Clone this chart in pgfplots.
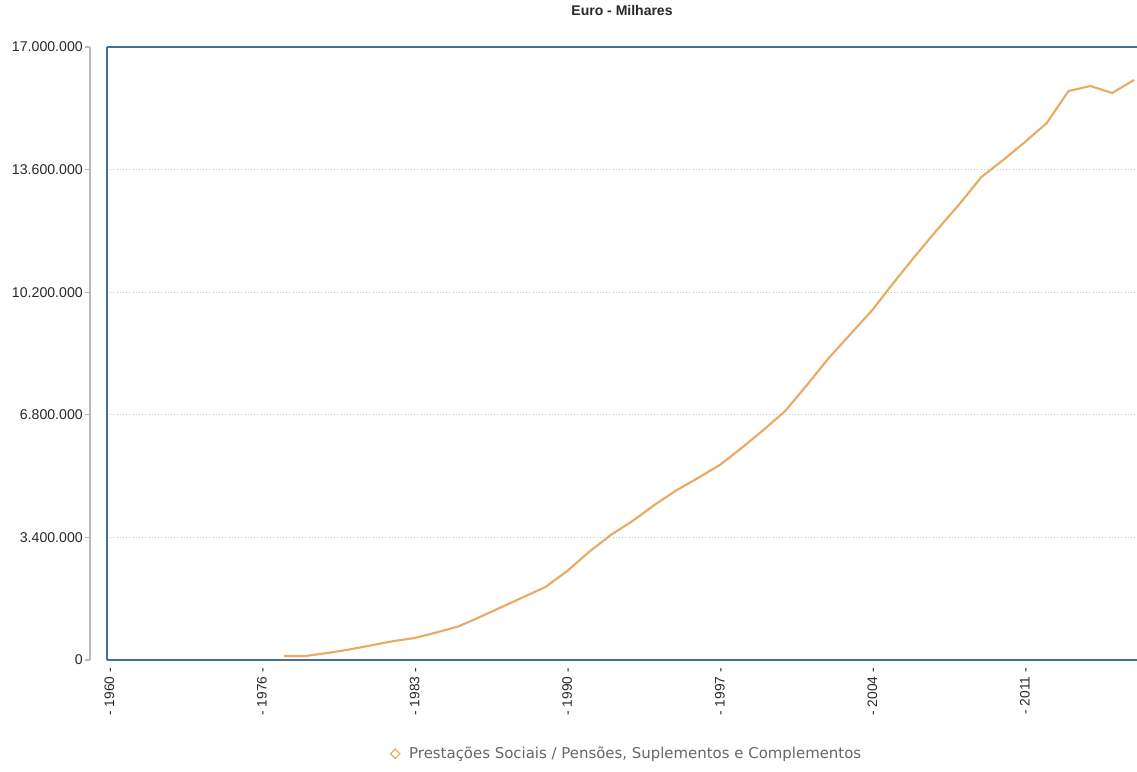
\documentclass[border=0pt]{standalone}
\usepackage{pgfplots}
\pgfplotsset{compat=1.18}
\usepackage{fontspec}
\setmainfont{Liberation Sans}
\newfontfamily\verd{DejaVu Sans}
\definecolor{lineor}{RGB}{233,170,100}
\definecolor{framec}{RGB}{74,112,140}
\definecolor{txt}{RGB}{40,40,40}
\begin{document}
\begin{tikzpicture}[x=1pt,y=1pt]
\useasboundingbox (0,0) rectangle (852.75,578.25);
\begin{axis}[
  at={(80.25pt,83.25pt)}, anchor=south west,
  scale only axis, width=772.5pt, height=459.75pt,
  xmin=1968.89, xmax=2016.14, ymin=0, ymax=17000000,
  axis x line*=box, axis y line*=left,
  axis line style={draw=framec, line width=1.2pt},
  xtick={1969,1976,1983,1990,1997,2004,2011},
  xticklabels={- 1960 -,- 1976 -,- 1983 -,- 1990 -,- 1997 -,- 2004 -,- 2011 -},
  xticklabel style={yshift=-6pt, rotate=90, anchor=east, inner sep=0pt, font=\fontsize{10.3}{12}\selectfont, text=txt},
  xtick style={draw=none},
  ytick={0,3400000,6800000,10200000,13600000,17000000},
  yticklabels={0,3.400.000,6.800.000,10.200.000,13.600.000,17.000.000},
  scaled y ticks=false,
  yticklabel style={anchor=east, inner sep=0pt, xshift=-18pt, font=\fontsize{10.6}{12}\selectfont, text=txt},
  tick align=inside, major tick length=3.75pt,
  ytick style={draw=gray!55, line width=0.8pt, xshift=-16.5pt},
  ymajorgrids, grid style={dotted, gray!45, line width=0.8pt},
  title={Euro - Milhares},
  title style={at={(0.5,1)}, anchor=center, yshift=21pt, font=\fontsize{10.5}{12}\selectfont\bfseries, text=txt},
  legend style={at={(0.505,-0.153)}, anchor=center, draw=none, fill=none, font=\verd\fontsize{11.2}{13}\selectfont, text=gray!80!black,
    /tikz/every odd column/.append style={column sep=5pt}},
  legend cell align=left,
  clip=true,
]
\addplot[lineor, line width=1.6pt, no marks,
  legend image code/.code={\draw[lineor, line width=0.9pt, mark=square, mark size=2.5pt, mark options={draw=lineor, fill=white, rotate=45}] plot coordinates {(0.1cm,0cm)};}]
coordinates {
(1977,111000) (1978,111000) (1979,194000) (1980,291000) (1981,405000)
(1982,521000) (1983,610000) (1984,763000) (1985,929000) (1986,1193000)
(1987,1470000) (1988,1747000) (1989,2024000) (1990,2468000) (1991,2995000)
(1992,3467000) (1993,3855000) (1994,4299000) (1995,4701000) (1996,5047000)
(1997,5408000) (1998,5879000) (1999,6378000) (2000,6905000) (2001,7626000)
(2002,8375000) (2003,9041000) (2004,9706000) (2005,10483000) (2006,11232000)
(2007,11953000) (2008,12646000) (2009,13395000) (2010,13866000) (2011,14365000)
(2012,14892000) (2013,15780000) (2014,15918000) (2015,15724000) (2016,16085000)
};
\addlegendentry{Prestações Sociais / Pensões, Suplementos e Complementos}
\end{axis}
\draw[gray!55, line width=0.8pt] (67.5,83.25) -- (67.5,543);
\end{tikzpicture}
\end{document}
